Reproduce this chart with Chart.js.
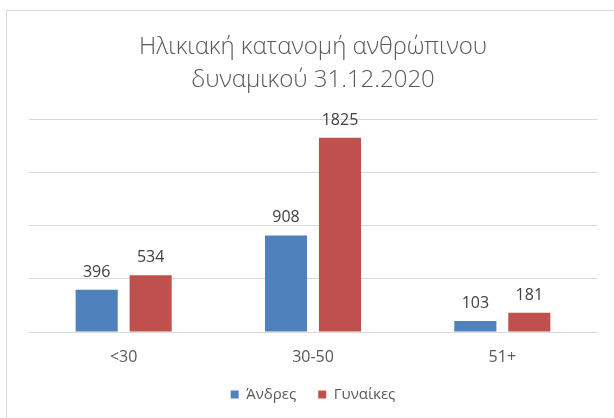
<!DOCTYPE html>
<html>
<head>
<meta charset="utf-8">
<script src="https://cdn.jsdelivr.net/npm/chart.js@4"></script>
<style>
  body { margin: 0; background: #fff; overflow: hidden; }
  canvas { display: block; }
</style>
</head>
<body>
<canvas id="ageChart" width="614" height="418"></canvas>
<script>
// Data
const titleLines = ["Ηλικιακή κατανομή ανθρώπινου", "δυναμικού 31.12.2020"];
const ageGroups = ["<30", "30-50", "51+"];
const men = [396, 908, 103];
const women = [534, 1825, 181];

const textFont = "'Open Sans', 'Noto Sans', sans-serif";

// White background + light frame like the Excel chart box
const frame = {
  id: "frame",
  beforeDraw(chart) {
    const ctx = chart.ctx;
    ctx.save();
    ctx.fillStyle = "#fff";
    ctx.fillRect(0, 0, chart.width, chart.height);
    ctx.strokeStyle = "#d9d9d9";
    ctx.lineWidth = 1;
    ctx.strokeRect(6.5, 10.5, 800, 600);
    ctx.restore();
  }
};

// Value labels above bars
const valueLabels = {
  id: "valueLabels",
  afterDatasetsDraw(chart) {
    const ctx = chart.ctx;
    ctx.save();
    ctx.font = "16px " + textFont;
    ctx.fillStyle = "#404040";
    ctx.textAlign = "center";
    ctx.textBaseline = "alphabetic";
    chart.data.datasets.forEach((ds, i) => {
      chart.getDatasetMeta(i).data.forEach((bar, j) => {
        ctx.fillText(ds.data[j], bar.x, bar.y - 13);
      });
    });
    ctx.restore();
  }
};

new Chart(document.getElementById("ageChart"), {
  type: "bar",
  data: {
    labels: ageGroups,
    datasets: [
      { label: "Άνδρες", data: men, backgroundColor: "#4f81bd" },
      { label: "Γυναίκες", data: women, backgroundColor: "#c0504d" }
    ]
  },
  options: {
    responsive: false,
    animation: false,
    categoryPercentage: 0.57,
    barPercentage: 0.78,
    layout: { padding: { left: 29, right: 17, top: 0, bottom: 6 } },
    plugins: {
      title: {
        display: true,
        text: titleLines,
        color: "#595959",
        font: { family: textFont, size: 24, weight: "300", lineHeight: 1.4 },
        padding: { top: 30, bottom: 22 }
      },
      legend: {
        position: "bottom",
        labels: {
          boxWidth: 8,
          boxHeight: 8,
          padding: 22,
          color: "#595959",
          font: { family: textFont, size: 15 }
        }
      },
      tooltip: { enabled: false }
    },
    scales: {
      x: {
        grid: { display: false, drawTicks: false },
        border: { display: false },
        ticks: {
          padding: 16,
          color: "#595959",
          font: { family: textFont, size: 16 }
        },
        afterFit(scale) {
          scale.height = 33;
        }
      },
      y: {
        min: 0,
        max: 2000,
        grid: { color: "#d9d9d9", drawTicks: false },
        border: { display: false },
        ticks: { stepSize: 500, display: false }
      }
    }
  },
  plugins: [frame, valueLabels]
});
</script>
</body>
</html>
